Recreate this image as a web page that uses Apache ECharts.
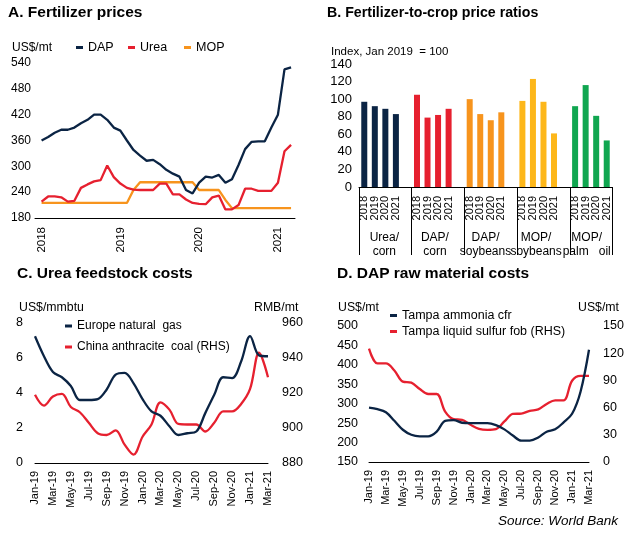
<!DOCTYPE html>
<html><head><meta charset="utf-8">
<script src="https://cdn.jsdelivr.net/npm/echarts@6/dist/echarts.min.js"></script>
<style>html,body{margin:0;padding:0;background:#fff}#c{width:629px;height:533px}</style>
</head><body><div id="c"></div>
<script>
// ---------- Panel A: Fertilizer prices (US$/mt), monthly Jan-2018 .. Mar-2021
const monthsA = ['Jan-18','Feb-18','Mar-18','Apr-18','May-18','Jun-18','Jul-18','Aug-18','Sep-18','Oct-18','Nov-18','Dec-18',
  'Jan-19','Feb-19','Mar-19','Apr-19','May-19','Jun-19','Jul-19','Aug-19','Sep-19','Oct-19','Nov-19','Dec-19',
  'Jan-20','Feb-20','Mar-20','Apr-20','May-20','Jun-20','Jul-20','Aug-20','Sep-20','Oct-20','Nov-20','Dec-20',
  'Jan-21','Feb-21','Mar-21'];
const yearTicksA = ['2018','2019','2020','2021'];
const dap  = [360,368,378,385,385,390,400,408,420,420,408,390,383,360,338,325,313,315,305,292,283,276,245,237,262,276,274,280,262,270,303,340,357,358,358,390,420,525,530];
const urea = [218,230,230,228,218,220,250,258,265,268,302,275,260,250,246,245,245,245,260,260,235,235,223,215,213,212,228,232,200,200,210,248,248,243,243,243,262,335,350];
const mop  = [215,215,215,215,215,215,215,215,215,215,215,215,215,215,245,263,263,263,263,263,263,263,263,263,245,245,245,245,222,203,203,203,203,203,203,203,203,203,203];

// ---------- Panel B: Fertilizer-to-crop price ratios (Index, Jan 2019 = 100)
const yearsB = ['2018','2019','2020','2021'];
const groupsB = ['Urea/\ncorn','DAP/\ncorn','DAP/\nsoybeans','MOP/\nsoybeans','MOP/\npalm   oil'];
const ureaCorn = [97,92,89,83];
const dapCorn  = [105,79,82,89];
const dapSoy   = [100,83,76,85];
const mopSoy   = [98,123,97,61];
const mopPalm  = [92,116,81,53];

// ---------- Panels C & D: monthly Jan-2019 .. Mar-2021
const monthsCD = ['Jan-19','Feb-19','Mar-19','Apr-19','May-19','Jun-19','Jul-19','Aug-19','Sep-19','Oct-19','Nov-19','Dec-19',
  'Jan-20','Feb-20','Mar-20','Apr-20','May-20','Jun-20','Jul-20','Aug-20','Sep-20','Oct-20','Nov-20','Dec-20',
  'Jan-21','Feb-21','Mar-21'];
const gasEU  = [7.24,6.1,5.2,4.9,4.4,3.6,3.6,3.65,4.2,5.05,5.15,4.55,3.65,2.95,2.7,2.1,1.6,1.7,1.8,2.85,3.9,4.9,4.85,5.8,7.25,6.15,6.1];
const coalCN = [919,912.8,918,919.5,912,909,903,897,896,898.7,890.5,884.8,895,902,914.7,910.5,902.3,902,902,898,903,909.5,909.5,913.7,922.3,943,929];
const ammonia = [290,286,278,256,233,220,216,216,228,256,258,251,250,250,250,245,234,218,205,205,213,228,234,252,274,331,439];
const sulfur  = [125,108.7,108.7,101,88.6,87.5,80.5,75,75,55.6,47.2,46.5,41,36.6,35.5,36.3,44.7,53,53.4,56.5,58,64,68,68,89.6,95,95];

// ---------- styling
const NAVY = '#0b2444', RED = '#e6202f', ORANGE = '#f7941d', YELLOW = '#fdb71a', GREEN = '#10a650';
const FONT = 'Liberation Sans, Arial, sans-serif';
const txt = (size, extra) => Object.assign({fontFamily: FONT, fontSize: size, color: '#000', fontWeight: 'normal'}, extra || {});

// build panel B slot categories (4 years + a blank spacer between groups)
const groupVals = [ureaCorn, dapCorn, dapSoy, mopSoy, mopPalm];
const groupCols = [NAVY, RED, ORANGE, YELLOW, GREEN];
const slotsB = [], barsB = [];
groupVals.forEach((g, gi) => {
  g.forEach((v, yi) => { slotsB.push(yearsB[yi]); barsB.push({value: v, itemStyle: {color: groupCols[gi]}}); });
  if (gi < groupVals.length - 1) { slotsB.push(''); barsB.push(null); }
});

const lineSeries = (name, data, color, xi, yi, smooth) => ({
  name, type: 'line', data, xAxisIndex: xi, yAxisIndex: yi, showSymbol: false, symbol: 'none',
  smooth: smooth ? 0.35 : false, lineStyle: {color, width: 2.3}, itemStyle: {color}, z: 3
});

const axisLineBlack = {show: true, lineStyle: {color: '#000', width: 1}};
const legendItem = (name, left, top, size) => ({
  data: [name], left, top, icon: 'rect', itemWidth: 7, itemHeight: 3, padding: 0,
  selectedMode: false, textStyle: txt(size)
});
const titleItem = (text, left, top, style) => ({text, left, top, padding: 0, textStyle: style});

const option = {
  animation: false,
  backgroundColor: '#fff',
  title: [
    titleItem('A. Fertilizer prices', 8, 5, txt(15.5, {fontWeight: 'bold'})),
    titleItem('B. Fertilizer-to-crop price ratios', 327, 6, txt(14.2, {fontWeight: 'bold'})),
    titleItem('C. Urea feedstock costs', 17, 266, txt(15.5, {fontWeight: 'bold'})),
    titleItem('D. DAP raw material costs', 337, 266, txt(15.5, {fontWeight: 'bold'})),
    titleItem('US$/mt', 12, 42, txt(12)),
    titleItem('Index, Jan 2019  = 100', 331, 46, txt(11.5)),
    titleItem('US$/mmbtu', 19, 302, txt(12.3)),
    titleItem('RMB/mt', 254, 302, txt(12.3)),
    titleItem('US$/mt', 338, 302, txt(12.3)),
    titleItem('US$/mt', 578, 302, txt(12.3)),
    {text: 'Source: World Bank', right: 11, top: 514, padding: 0, textStyle: txt(13.5, {fontStyle: 'italic'})}
  ],
  legend: [
    legendItem('DAP', 76, 41, 12.5),
    legendItem('Urea', 128, 41, 12.5),
    legendItem('MOP', 184, 41, 12.5),
    legendItem('Europe natural  gas', 65, 320, 12),
    legendItem('China anthracite  coal (RHS)', 65, 341, 12),
    legendItem('Tampa ammonia cfr', 390, 309, 12.5),
    legendItem('Tampa liquid sulfur fob (RHS)', 390, 325, 12.5)
  ],
  grid: [
    {left: 35, top: 63, width: 260, height: 155},
    {left: 359, top: 64, width: 253, height: 123},
    {left: 35, top: 323, width: 233, height: 140},
    {left: 369, top: 326, width: 220, height: 136}
  ],
  xAxis: [
    {gridIndex: 0, type: 'value', min: -1, max: 38.6, splitLine: {show: false}, axisLine: axisLineBlack,
     axisTick: {show: false},
     axisLabel: Object.assign(txt(11.5), {rotate: 90, margin: 9, customValues: [0, 12, 24, 36],
       formatter: v => yearTicksA[Math.round(v / 12)] || ''})},
    {gridIndex: 1, type: 'category', data: slotsB, boundaryGap: true, axisLine: axisLineBlack,
     axisTick: {show: true, length: 68, interval: (i) => i % 5 === 0, lineStyle: {color: '#000', width: 1}},
     axisLabel: Object.assign(txt(11), {rotate: 90, margin: 9, interval: 0})},
    {gridIndex: 1, type: 'category', data: groupsB, position: 'bottom', axisLine: {show: false},
     axisTick: {show: false}, axisLabel: Object.assign(txt(12), {margin: 44, interval: 0, lineHeight: 14})},
    {gridIndex: 2, type: 'category', data: monthsCD, boundaryGap: false, axisLine: axisLineBlack,
     axisTick: {show: false}, axisLabel: Object.assign(txt(11), {rotate: 90, margin: 8, interval: 1})},
    {gridIndex: 3, type: 'category', data: monthsCD, boundaryGap: false, axisLine: axisLineBlack,
     axisTick: {show: false}, axisLabel: Object.assign(txt(11), {rotate: 90, margin: 8, interval: 1})}
  ],
  yAxis: [
    {gridIndex: 0, type: 'value', min: 180, max: 540, interval: 60, splitLine: {show: false},
     axisLine: {show: false}, axisTick: {show: false}, axisLabel: Object.assign(txt(12), {margin: 4})},
    {gridIndex: 1, type: 'value', min: 0, max: 140, interval: 20, splitLine: {show: false},
     axisLine: {show: false}, axisTick: {show: false}, axisLabel: Object.assign(txt(13), {margin: 7})},
    {gridIndex: 2, type: 'value', min: 0, max: 8, interval: 2, splitLine: {show: false},
     axisLine: {show: false}, axisTick: {show: false}, axisLabel: Object.assign(txt(12.5), {margin: 12})},
    {gridIndex: 2, type: 'value', position: 'right', min: 880, max: 960, interval: 20, splitLine: {show: false},
     axisLine: {show: false}, axisTick: {show: false}, axisLabel: Object.assign(txt(12.5), {margin: 14})},
    {gridIndex: 3, type: 'value', min: 150, max: 500, interval: 50, splitLine: {show: false},
     axisLine: {show: false}, axisTick: {show: false}, axisLabel: Object.assign(txt(12.5), {margin: 11})},
    {gridIndex: 3, type: 'value', position: 'right', min: 0, max: 150, interval: 30, splitLine: {show: false},
     axisLine: {show: false}, axisTick: {show: false}, axisLabel: Object.assign(txt(12.5), {margin: 14})}
  ],
  series: [
    lineSeries('MOP', mop.map((v, i) => [i, v]), ORANGE, 0, 0, false),
    lineSeries('Urea', urea.map((v, i) => [i, v]), RED, 0, 0, false),
    lineSeries('DAP', dap.map((v, i) => [i, v]), NAVY, 0, 0, false),
    {name: 'ratios', type: 'bar', xAxisIndex: 1, yAxisIndex: 1, data: barsB, barWidth: 6},
    lineSeries('China anthracite  coal (RHS)', coalCN, RED, 3, 3, true),
    lineSeries('Europe natural  gas', gasEU, NAVY, 3, 2, true),
    lineSeries('Tampa liquid sulfur fob (RHS)', sulfur, RED, 4, 5, true),
    lineSeries('Tampa ammonia cfr', ammonia, NAVY, 4, 4, true)
  ]
};
const chart = echarts.init(document.getElementById('c'), null, {renderer: 'canvas'});
chart.setOption(option);
</script>
</body></html>
